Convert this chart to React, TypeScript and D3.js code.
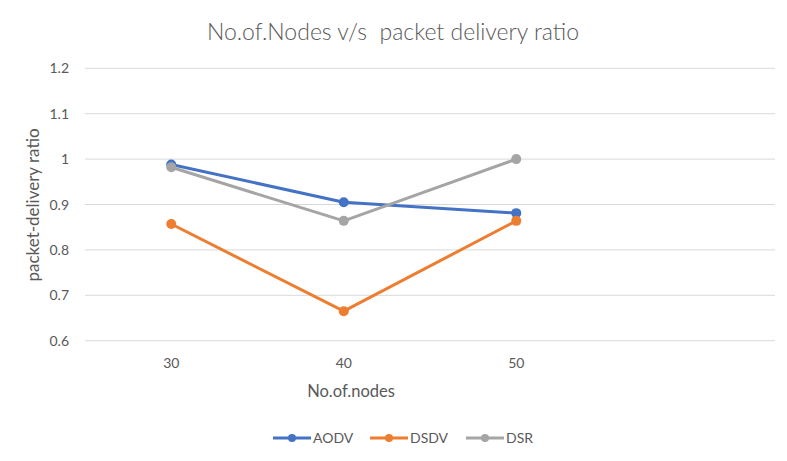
import React, { useEffect, useRef } from 'react';
import * as d3 from 'd3';

const categories = ['30', '40', '50', ''];
const aodv = [0.988, 0.905, 0.881];
const dsdv = [0.857, 0.665, 0.864];
const dsr = [0.982, 0.864, 1.0];
const yTicks = [0.6, 0.7, 0.8, 0.9, 1, 1.1, 1.2];

const seriesList = [
    { name: 'AODV', values: aodv, color: '#4472C4' },
    { name: 'DSDV', values: dsdv, color: '#ED7D31' },
    { name: 'DSR', values: dsr, color: '#A5A5A5' },
];

const FONT = 'Lato, "Open Sans", sans-serif';
const TEXT = '#595959';

export default function App() {
    const svgRef = useRef<SVGSVGElement>(null);

    useEffect(() => {
        const svg = d3.select(svgRef.current);
        svg.selectAll('*').remove();

        const x = d3.scaleBand().domain(categories).range([85, 775]);
        const y = d3.scaleLinear().domain([0.6, 1.2]).range([340.7, 68.3]);

        svg.append('rect').attr('width', 787).attr('height', 461).attr('fill', '#fff');

        // title
        svg.append('text')
            .attr('x', 393)
            .attr('y', 40)
            .attr('text-anchor', 'middle')
            .attr('fill', TEXT)
            .style('font-family', FONT)
            .style('font-size', '23px')
            .style('font-weight', 300)
            .attr('xml:space', 'preserve')
            .text('No.of.Nodes v/s  packet delivery ratio');

        // gridlines + y labels
        const grid = svg.append('g');
        yTicks.forEach((t) => {
            grid.append('line')
                .attr('x1', 85).attr('x2', 775)
                .attr('y1', y(t)).attr('y2', y(t))
                .attr('stroke', '#D9D9D9')
                .attr('stroke-width', 1);
            grid.append('text')
                .attr('x', 69)
                .attr('y', y(t) + 5)
                .attr('text-anchor', 'end')
                .attr('fill', TEXT)
                .style('font-family', FONT)
                .style('font-size', '14px')
                .text(String(t));
        });

        // x labels
        categories.forEach((c) => {
            if (!c) return;
            svg.append('text')
                .attr('x', (x(c) ?? 0) + x.bandwidth() / 2)
                .attr('y', 368)
                .attr('text-anchor', 'middle')
                .attr('fill', TEXT)
                .style('font-family', FONT)
                .style('font-size', '14px')
                .text(c);
        });

        // axis titles
        svg.append('text')
            .attr('x', 351)
            .attr('y', 397)
            .attr('text-anchor', 'middle')
            .attr('fill', TEXT)
            .style('font-family', FONT)
            .style('font-size', '16.5px')
            .text('No.of.nodes');

        svg.append('text')
            .attr('transform', 'translate(39, 205) rotate(-90)')
            .attr('text-anchor', 'middle')
            .attr('fill', TEXT)
            .style('font-family', FONT)
            .style('font-size', '17px')
            .text('packet-delivery ratio');

        const cx = (i: number) => (x(categories[i]) ?? 0) + x.bandwidth() / 2;

        seriesList.forEach((s) => {
            const line = d3.line<number>()
                .x((_, i) => cx(i))
                .y((d) => y(d));
            svg.append('path')
                .datum(s.values)
                .attr('fill', 'none')
                .attr('stroke', s.color)
                .attr('stroke-width', 3)
                .attr('stroke-linejoin', 'round')
                .attr('d', line);
            svg.append('g')
                .selectAll('circle')
                .data(s.values)
                .join('circle')
                .attr('cx', (_, i) => cx(i))
                .attr('cy', (d) => y(d))
                .attr('r', 5)
                .attr('fill', s.color);
        });

        // legend
        const legendX = [273, 370, 466];
        seriesList.forEach((s, i) => {
            const g = svg.append('g').attr('transform', `translate(${legendX[i]}, 438)`);
            g.append('line')
                .attr('x1', 0).attr('x2', 38)
                .attr('stroke', s.color)
                .attr('stroke-width', 3);
            g.append('circle').attr('cx', 19).attr('r', 4).attr('fill', s.color);
            g.append('text')
                .attr('x', 40)
                .attr('y', 5)
                .attr('fill', TEXT)
                .style('font-family', FONT)
                .style('font-size', '14px')
                .text(s.name);
        });
    }, []);

    return (
        <svg
            ref={svgRef}
            width={787}
            height={461}
            style={{ position: 'absolute', left: 0, top: 0 }}
        />
    );
}
